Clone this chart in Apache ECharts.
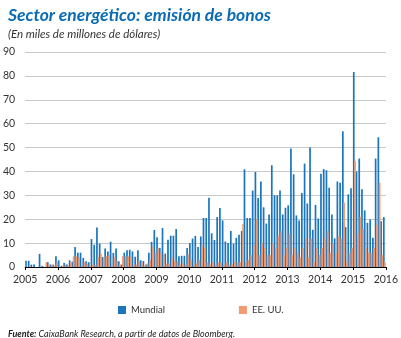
<!DOCTYPE html>
<html><head><meta charset="utf-8">
<script src="https://cdn.jsdelivr.net/npm/echarts@6/dist/echarts.min.js"></script>
<style>html,body{margin:0;padding:0;background:#fff}#c{width:401px;height:338px}</style>
</head><body><div id="c"></div>
<script>
const years = [2005,2006,2007,2008,2009,2010,2011,2012,2013,2014,2015];
// Monthly bond issuance, energy sector (bn USD), Jan 2005 - Dec 2015
const mundial = [
 2.6,2.6,1,1,0,5.5,0.5,0,2,1,1,4.5,
 2.8,0.5,1.7,1,2.8,2.2,8.4,6,6,3.8,2.4,2,
 11.7,9.3,16.5,9.8,4.2,7.7,6.5,10.6,5.9,7.7,2.4,1,
 6,7,7.2,6.5,4.3,7,2.8,2.5,1,6,10.5,15.5,
 12.5,8,16.3,5.6,11.4,13.1,13.1,15.9,4.5,4.7,4.7,8,
 10,11.9,13,8.4,12.8,20.5,20.5,29,14.1,11.3,20.9,24.7,
 19.5,10.7,10,15.1,9.8,12.2,13.5,15.1,40.9,20.5,20.5,32,
 39.8,28.9,35.8,25,18.2,22,42.6,30,30,32,22,24.8,
 25.8,49.6,38.8,21.6,19.5,31,43.3,26.6,50,15.6,26,20.3,
 39,41,40.5,33.2,22,12,35.8,35.3,56.8,16.7,30.4,33,
 81.6,40,45.4,32.5,23.7,18.5,19.9,12.2,45.4,54.3,19.2,20.9
];
const eeuu = [
 0,0.3,0,0,0,0,0,2,1,1,0.5,2,
 0,0.5,1,0.5,2,4.5,4.5,4,0.5,2,1.5,0.5,
 1,1,4.2,5.6,4,4.6,5,0.5,4.2,2.5,1,4.5,
 4.5,4.5,4.2,1,1,2.5,2,0.5,1.5,3,8.5,6,
 8,6,5,1.5,1.5,4,2.5,2.5,1,1.5,1,5.5,
 3,1,1.5,3,9,8,2,1,2,1,2,2,
 1,2,1,1,2,2,2,18,2,3,5,9,
 20,5,10,8,5,5,10,8,13,15,5,8,
 14,5,8,6,4,8,12,4,12,2,8,5,
 8,12,15,6,10,6,13,12,27,2,6,8,
 44.5,14,21,16,8,6,6,8,17.5,35.3,5,2
];
const months = [];
years.forEach(y => { for (let m = 1; m <= 12; m++) months.push(y + '-' + m); });

const chart = echarts.init(document.getElementById('c'), null, {renderer: 'canvas'});
const F = 'Lato';
chart.setOption({
  animation: false,
  title: [
    {text: 'Sector energético: emisión de bonos', left: 3, top: 1,
     textStyle: {color: '#0b6cb5', fontFamily: F, fontStyle: 'italic', fontWeight: 'bold', fontSize: 17.5}},
    {text: '(En miles de millones de dólares)', left: 3, top: 23,
     textStyle: {color: '#333', fontFamily: F, fontStyle: 'italic', fontWeight: 'normal', fontSize: 11.5}},
    {text: '{b|Fuente:} CaixaBank Research, a partir de datos de Bloomberg.', left: 3, top: 325,
     textStyle: {color: '#222', fontFamily: F, fontStyle: 'italic', fontWeight: 'normal', fontSize: 9,
       rich: {b: {fontFamily: F, fontStyle: 'italic', fontWeight: 'bold', fontSize: 9, color: '#222'}}}}
  ],
  legend: {
    data: ['Mundial', 'EE. UU.'], left: 113, top: 300, icon: 'rect', itemWidth: 8, itemHeight: 8,
    itemGap: 74, textStyle: {fontFamily: F, fontSize: 9.5, color: '#333'}
  },
  grid: {left: 25, right: 14, top: 52, bottom: 71},
  xAxis: [
    {type: 'category', data: months, show: false},
    {type: 'value', min: 2005, max: 2016, interval: 1, position: 'bottom',
     axisLine: {show: true, onZero: false, lineStyle: {color: '#000', width: 1}},
     axisTick: {show: true, length: 3, lineStyle: {color: '#000'}},
     axisLabel: {formatter: v => String(v), color: '#333', fontFamily: F, fontSize: 10.5, margin: 7},
     splitLine: {show: false}}
  ],
  yAxis: {type: 'value', min: 0, max: 90, interval: 10,
    axisLine: {show: false}, axisTick: {show: false},
    axisLabel: {color: '#333', fontFamily: F, fontSize: 10.5, margin: 10},
    splitLine: {lineStyle: {color: '#c8c8c8', width: 1}}},
  series: [
    {type: 'bar', name: 'Mundial', data: mundial, xAxisIndex: 0, barWidth: 1.7, barGap: '-25%',
     itemStyle: {color: '#1a75bd'}},
    {type: 'bar', name: 'EE. UU.', data: eeuu, xAxisIndex: 0, barWidth: 1.7,
     itemStyle: {color: '#f29a70'}}
  ]
});
</script></body></html>
